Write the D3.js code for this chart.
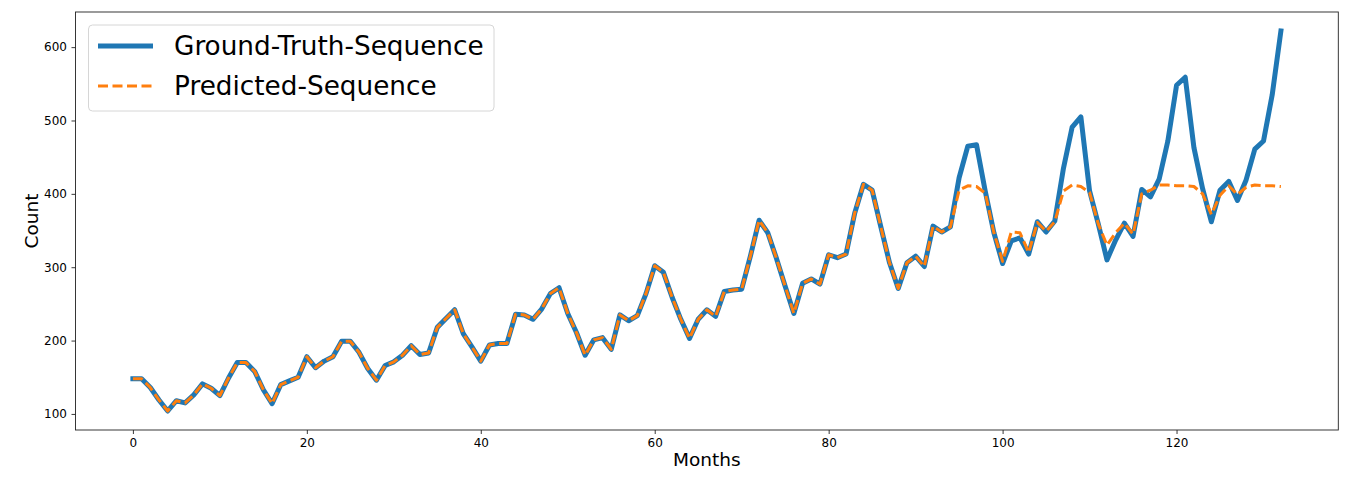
<!DOCTYPE html>
<html>
<head>
<meta charset="utf-8">
<script src="https://cdn.jsdelivr.net/npm/d3@7"></script>
<style>
  body { margin: 0; background: #fff; }
  svg { display: block; font-family: "DejaVu Sans", sans-serif; }
</style>
</head>
<body>
<div id="chart"></div>
<script>
// monthly counts, Jul 1949 .. Jul 1960
const groundTruth = [
  148, 148, 136, 119, 104, 118,
  115, 126, 141, 135, 125, 149, 170, 170, 158, 133, 114, 140,
  145, 150, 178, 163, 172, 178, 199, 199, 184, 162, 146, 166,
  171, 180, 193, 181, 183, 218, 230, 242, 209, 191, 172, 194,
  196, 196, 236, 235, 229, 243, 264, 272, 237, 211, 180, 201,
  204, 188, 235, 227, 234, 264, 302, 293, 259, 229, 203, 229,
  242, 233, 267, 269, 270, 315, 364, 347, 312, 274, 237, 278,
  284, 277, 317, 313, 318, 374, 413, 405, 355, 306, 271, 306,
  315, 301, 356, 348, 355, 422, 465, 467, 404, 347, 305, 336,
  340, 318, 362, 348, 363, 435, 491, 505, 404, 359, 310, 337,
  360, 342, 406, 396, 420, 472, 548, 559, 463, 407, 362, 405,
  417, 391, 419, 461, 472, 535, 622
];

const predicted = [
  148, 148, 136, 119, 104, 118,
  115, 126, 141, 135, 125, 149, 170, 170, 158, 133, 114, 140,
  145, 150, 178, 163, 172, 178, 199, 199, 184, 162, 146, 166,
  171, 180, 193, 181, 183, 218, 230, 242, 209, 191, 172, 194,
  196, 196, 236, 235, 229, 243, 264, 272, 237, 211, 180, 201,
  204, 188, 235, 227, 234, 264, 302, 293, 259, 229, 203, 229,
  242, 233, 267, 269, 270, 315, 364, 347, 312, 274, 237, 278,
  284, 277, 317, 313, 318, 374, 413, 405, 355, 306, 271, 306,
  315, 301, 356, 348, 355, 405, 411, 410, 401, 347, 308, 348,
  347, 320, 361, 349, 362, 404, 412, 410, 402, 359, 330, 347,
  360, 345, 400, 405, 412, 412, 411, 411, 410, 400, 372, 398,
  411, 399, 409, 412, 411, 411, 410
];

const xTicks = [0, 20, 40, 60, 80, 100, 120];
const yTicks = [100, 200, 300, 400, 500, 600];
const seriesNames = ["Ground-Truth-Sequence", "Predicted-Sequence"];

const width = 1358, height = 482;
const margin = { top: 12, right: 19.7, bottom: 52, left: 75.5 };

const svg = d3.select("#chart")
  .append("svg")
  .attr("width", width)
  .attr("height", height);

const n = groundTruth.length - 1;
const allVals = groundTruth.concat(predicted);
const yMin = d3.min(allVals), yMax = d3.max(allVals);
const xPad = n * 0.05, yPad = (yMax - yMin) * 0.05;

const x = d3.scaleLinear()
  .domain([-xPad, n + xPad])
  .range([margin.left, width - margin.right]);

const y = d3.scaleLinear()
  .domain([yMin - yPad, yMax + yPad])
  .range([height - margin.bottom, margin.top]);

// axes
const xAxis = svg.append("g")
  .attr("transform", `translate(0,${height - margin.bottom})`)
  .call(d3.axisBottom(x).tickValues(xTicks).tickSize(4).tickPadding(4).tickSizeOuter(0));

const yAxis = svg.append("g")
  .attr("transform", `translate(${margin.left},0)`)
  .call(d3.axisLeft(y).tickValues(yTicks).tickSize(4).tickPadding(4.5).tickSizeOuter(0));

[xAxis, yAxis].forEach(a => {
  a.select(".domain").remove();
  a.selectAll(".tick line").attr("stroke", "#222").attr("stroke-width", 0.9);
  a.selectAll(".tick text")
    .attr("fill", "#000")
    .style("font-size", "12px")
    .style("font-family", "DejaVu Sans, sans-serif");
});

// frame
svg.append("rect")
  .attr("x", margin.left)
  .attr("y", margin.top)
  .attr("width", width - margin.left - margin.right)
  .attr("height", height - margin.top - margin.bottom)
  .attr("fill", "none")
  .attr("stroke", "#222")
  .attr("stroke-width", 0.9);

// axis labels
svg.append("text")
  .attr("x", (margin.left + width - margin.right) / 2)
  .attr("y", 466)
  .attr("text-anchor", "middle")
  .style("font-size", "18.5px")
  .text("Months");

svg.append("text")
  .attr("transform", `translate(38,${(margin.top + height - margin.bottom) / 2}) rotate(-90)`)
  .attr("text-anchor", "middle")
  .style("font-size", "18.5px")
  .text("Count");

// lines
const line = d3.line()
  .x((d, i) => x(i))
  .y(d => y(d));

svg.append("path")
  .datum(groundTruth)
  .attr("d", line)
  .attr("fill", "none")
  .attr("stroke", "#1f77b4")
  .attr("stroke-width", 5)
  .attr("stroke-linejoin", "round")
  .attr("stroke-linecap", "square");

svg.append("path")
  .datum(predicted)
  .attr("d", line)
  .attr("fill", "none")
  .attr("stroke", "#ff7f0e")
  .attr("stroke-width", 3)
  .attr("stroke-dasharray", "10,4.5")
  .attr("stroke-linejoin", "round");

// legend
const legend = svg.append("g");
legend.append("rect")
  .attr("x", 88.5)
  .attr("y", 25)
  .attr("width", 405.5)
  .attr("height", 86)
  .attr("rx", 4)
  .attr("fill", "#fff")
  .attr("fill-opacity", 0.8)
  .attr("stroke", "#d6d6d6")
  .attr("stroke-width", 1);

const legendRows = [
  { name: seriesNames[0], color: "#1f77b4", w: 5, dash: null },
  { name: seriesNames[1], color: "#ff7f0e", w: 3, dash: "10,4.5" }
];

legendRows.forEach((r, i) => {
  const ly = 46 + i * 40;
  legend.append("line")
    .attr("x1", 98).attr("x2", 153)
    .attr("y1", ly).attr("y2", ly)
    .attr("stroke", r.color)
    .attr("stroke-width", r.w)
    .attr("stroke-dasharray", r.dash);
  legend.append("text")
    .attr("x", 174)
    .attr("y", ly)
    .attr("dominant-baseline", "central")
    .style("font-size", "26.3px")
    .text(r.name);
});
</script>
</body>
</html>
